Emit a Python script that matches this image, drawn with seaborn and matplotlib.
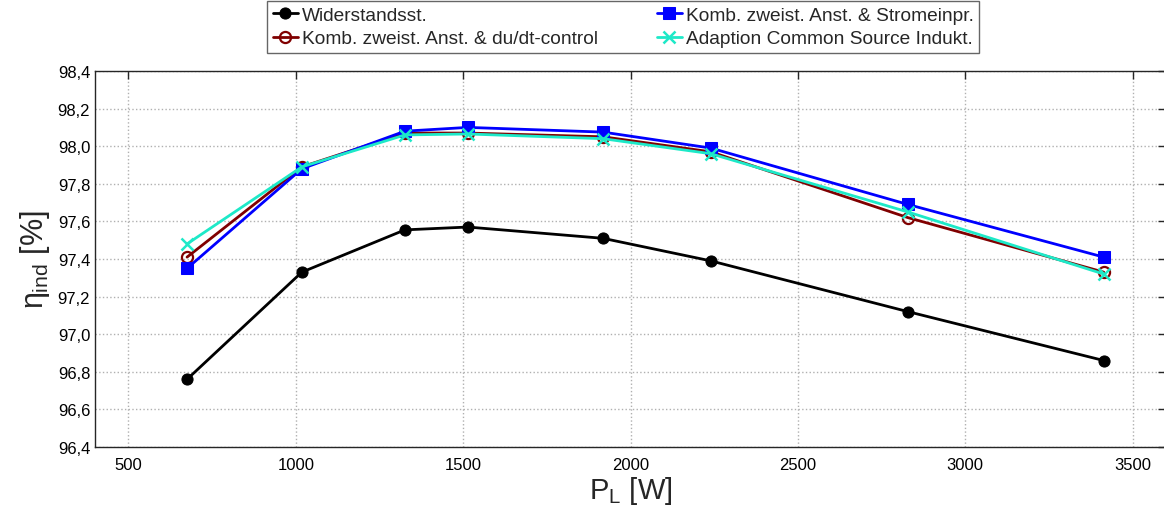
import pandas as pd
import matplotlib
matplotlib.use('Agg')
import matplotlib.pyplot as plt
from matplotlib.ticker import FuncFormatter, MultipleLocator
import seaborn as sns

# Values
p_load = [675, 1018, 1326, 1514, 1918, 2240, 2829, 3414]
eta_widerstand = [96.76, 97.33, 97.555, 97.57, 97.51, 97.39, 97.12, 96.86]
eta_dudt = [97.41, 97.89, 98.07, 98.07, 98.05, 97.97, 97.62, 97.33]
eta_strom = [97.35, 97.88, 98.08, 98.10, 98.075, 97.99, 97.69, 97.41]
eta_adaption = [97.48, 97.89, 98.06, 98.065, 98.04, 97.96, 97.65, 97.32]

labels = ['Widerstandsst.',
          'Komb. zweist. Anst. & du/dt-control',
          'Komb. zweist. Anst. & Stromeinpr.',
          'Adaption Common Source Indukt.']
series = [eta_widerstand, eta_dudt, eta_strom, eta_adaption]

sns.set_style('white')
plt.rcParams['font.family'] = ['Liberation Sans', 'DejaVu Sans']
plt.rcParams['mathtext.fontset'] = 'custom'
plt.rcParams['mathtext.rm'] = 'Liberation Sans'
plt.rcParams['mathtext.it'] = 'Liberation Sans'

fig = plt.figure(figsize=(11.64, 5.06), dpi=100)
ax = fig.add_axes([95 / 1164, 1 - 448 / 506, 1071 / 1164, 376 / 506])

styles = [
    dict(color='black', marker='o', markersize=8, markerfacecolor='black',
         markeredgecolor='black'),
    dict(color='#800000', marker='o', markersize=8, markerfacecolor='none',
         markeredgecolor='#800000', markeredgewidth=1.6),
    dict(color='blue', marker='s', markersize=8, markerfacecolor='blue',
         markeredgecolor='blue'),
    dict(color='#1de9c8', marker='x', markersize=8, markeredgecolor='#1de9c8',
         markeredgewidth=1.8),
]

handles = []
for lab, vals, st in zip(labels, series, styles):
    df = pd.DataFrame({'P': p_load, 'eta': vals})
    sns.lineplot(data=df, x='P', y='eta', ax=ax, linewidth=2, linestyle='-',
                 dashes=False, **st)
    handles.append(ax.lines[-1])

ax.set_xlim(400, 3600)
ax.set_ylim(96.4, 98.4)
ax.xaxis.set_major_locator(MultipleLocator(500))
ax.yaxis.set_major_locator(MultipleLocator(0.2))
ax.yaxis.set_major_formatter(FuncFormatter(lambda v, _: f'{v:.1f}'.replace('.', ',')))
ax.tick_params(direction='in', length=6, width=1, top=True, right=True,
               labelsize=12, colors='#262626', labelcolor='black')
ax.tick_params(axis='x', pad=7)
ax.grid(True, linestyle=':', color='#b0b0b0', linewidth=1)
for s in ax.spines.values():
    s.set_color('#262626')
    s.set_linewidth(1)

ax.set_xlabel(r'P$_{\rm L}$ [W]', fontsize=21, va='top')
ax.xaxis.set_label_coords(0.5, -0.072)
ax.set_ylabel(r'$\eta_{\rm ind}$ [%]', fontsize=22, labelpad=4)

ax.legend(handles=handles, labels=labels, ncol=2, loc='upper left',
          bbox_to_anchor=(267 / 1164, 1 - 2 / 506), bbox_transform=fig.transFigure,
          fontsize=13.8, frameon=True, fancybox=False, edgecolor='#404040',
          handlelength=1.3, handletextpad=0.2, columnspacing=3.1,
          borderpad=0.3, labelspacing=0.3, borderaxespad=0)

fig.savefig('out.png', dpi=100)
